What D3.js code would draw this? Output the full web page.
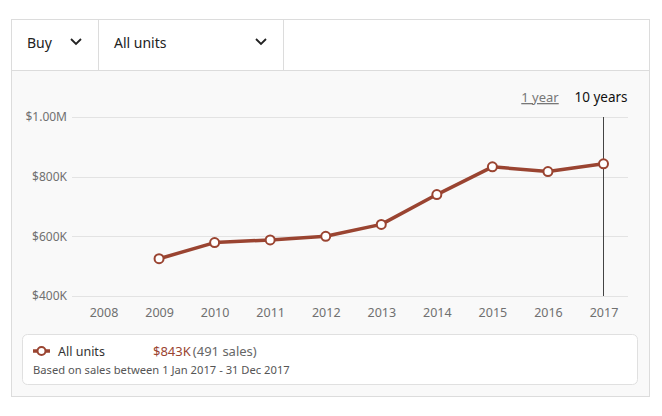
<!DOCTYPE html>
<html><head><meta charset="utf-8">
<script src="https://cdn.jsdelivr.net/npm/d3@7"></script>
<style>
html,body{margin:0;padding:0;background:#fff;}
svg{display:block;font-family:"Noto Sans",sans-serif;}
</style></head>
<body>
<svg id="chart" width="662" height="416"></svg>
<script>
const years = [2008, 2009, 2010, 2011, 2012, 2013, 2014, 2015, 2016, 2017];
const dataYears = [2009, 2010, 2011, 2012, 2013, 2014, 2015, 2016, 2017];
const medianPrices = [525000, 579000, 588000, 600000, 640000, 740000, 833000, 817000, 843000];
const yTicks = [400000, 600000, 800000, 1000000];
const yTickLabels = ["$400K", "$600K", "$800K", "$1.00M"];
const seriesName = "All units";
const summaryValue = "$843K";
const summarySales = "(491 sales)";
const footnote = "Based on sales between 1 Jan 2017 - 31 Dec 2017";

const svg = d3.select("#chart");
const lineColor = "#9a4431";

// Outer panel
svg.append("rect").attr("x", 11.5).attr("y", 19.5).attr("width", 638).attr("height", 377)
  .attr("fill", "#f9f9f9").attr("stroke", "#dcdcdc");
svg.append("rect").attr("x", 12).attr("y", 20).attr("width", 637).attr("height", 50).attr("fill", "#fff");
svg.append("line").attr("x1", 12).attr("x2", 649).attr("y1", 70.5).attr("y2", 70.5).attr("stroke", "#dcdcdc");
[98.5, 283.5].forEach(x => svg.append("line").attr("x1", x).attr("x2", x).attr("y1", 20).attr("y2", 70).attr("stroke", "#dcdcdc"));

// Dropdowns
svg.append("text").attr("x", 27).attr("y", 48).attr("font-size", 14).attr("fill", "#222").text("Buy");
svg.append("text").attr("x", 114).attr("y", 48).attr("font-size", 14).attr("fill", "#222").text("All units");
const chev = (cx, cy) => svg.append("path")
  .attr("d", `M${cx-5},${cy-3} L${cx},${cy+2} L${cx+5},${cy-3}`)
  .attr("fill", "none").attr("stroke", "#222").attr("stroke-width", 1.8);
chev(76, 42); chev(261, 42);

// Period toggles
svg.append("text").attr("x", 540).attr("y", 102).attr("text-anchor", "middle").attr("font-size", 13)
  .attr("fill", "#777").attr("text-decoration", "underline").text("1 year");
svg.append("text").attr("x", 601).attr("y", 102).attr("text-anchor", "middle").attr("font-size", 13.5)
  .attr("fill", "#111").text("10 years");

// Scales
const x = d3.scalePoint().domain(years).range([103.5, 603.5]);
const y = d3.scaleLinear().domain([400000, 1000000]).range([296, 117]);

// Gridlines
const grid = svg.append("g");
grid.selectAll("line").data(yTicks).join("line")
  .attr("x1", 72).attr("x2", 628)
  .attr("y1", d => Math.round(y(d)) + 0.5).attr("y2", d => Math.round(y(d)) + 0.5)
  .attr("stroke", "#e3e3e3");

// Y axis labels
const yAxis = d3.axisLeft(y).tickValues(yTicks).tickSize(0).tickPadding(0)
  .tickFormat((d, i) => yTickLabels[i]);
const yg = svg.append("g").attr("transform", "translate(67,0)").call(yAxis);
yg.select(".domain").remove();
yg.selectAll("text").attr("font-size", 12).attr("fill", "#707070").attr("font-family", "Noto Sans, sans-serif");

// X axis labels
const xAxis = d3.axisBottom(x).tickSize(0).tickPadding(0).tickFormat(d => String(d));
const xg = svg.append("g").attr("transform", "translate(0,308)").call(xAxis);
xg.select(".domain").remove();
xg.selectAll("text").attr("font-size", 12.5).attr("fill", "#707070").attr("font-family", "Noto Sans, sans-serif");

// Vertical hover line at last year
svg.append("line").attr("x1", x(2017)).attr("x2", x(2017)).attr("y1", y(1000000)).attr("y2", y(400000))
  .attr("stroke", "#444").attr("stroke-width", 1);

// Line
const pts = dataYears.map((yr, i) => [yr, medianPrices[i]]);
svg.append("path").datum(pts)
  .attr("d", d3.line().x(d => x(d[0])).y(d => y(d[1])))
  .attr("fill", "none").attr("stroke", lineColor).attr("stroke-width", 3.5).attr("stroke-linejoin", "round");
svg.selectAll("circle.pt").data(pts).join("circle").attr("class", "pt")
  .attr("cx", d => x(d[0])).attr("cy", d => y(d[1])).attr("r", 4.5)
  .attr("fill", "#fff").attr("stroke", lineColor).attr("stroke-width", 2);

// Legend box
svg.append("rect").attr("x", 22.5).attr("y", 334.5).attr("width", 615).attr("height", 50).attr("rx", 5)
  .attr("fill", "#fff").attr("stroke", "#e0e0e0");
svg.append("line").attr("x1", 33).attr("x2", 50).attr("y1", 351).attr("y2", 351)
  .attr("stroke", lineColor).attr("stroke-width", 3.5);
svg.append("circle").attr("cx", 41.5).attr("cy", 351).attr("r", 4)
  .attr("fill", "#fff").attr("stroke", lineColor).attr("stroke-width", 2);
svg.append("text").attr("x", 58).attr("y", 356).attr("font-size", 12.5).attr("fill", "#333").text(seriesName);
const summary = svg.append("text").attr("x", 153).attr("y", 356).attr("font-size", 13);
summary.append("tspan").attr("fill", lineColor).text(summaryValue);
summary.append("tspan").attr("fill", "#666").attr("dx", 2).text(summarySales);
svg.append("text").attr("x", 33).attr("y", 374).attr("font-size", 11.2).attr("fill", "#555").text(footnote);
</script>
</body></html>
